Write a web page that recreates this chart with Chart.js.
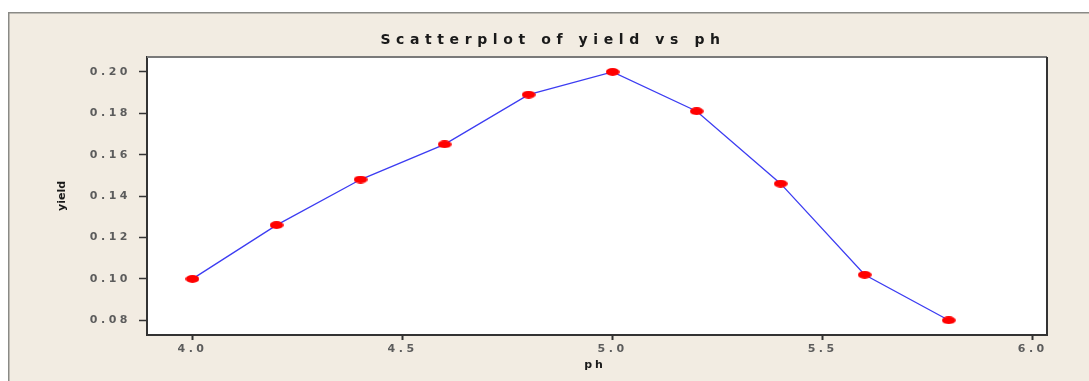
<!DOCTYPE html>
<html>
<head>
<meta charset="utf-8">
<script src="https://cdn.jsdelivr.net/npm/chart.js@4.4.1/dist/chart.umd.min.js"></script>
<style>
html,body{margin:0;padding:0;background:#ffffff;}
#wrap{width:1089px;height:381px;position:relative;}
</style>
</head>
<body>
<div id="wrap"><canvas id="c" width="1089" height="381"></canvas></div>
<script>
// ---- data ----
const phValues = [4.0, 4.2, 4.4, 4.6, 4.8, 5.0, 5.2, 5.4, 5.6, 5.8];
const yieldValues = [0.100, 0.126, 0.148, 0.165, 0.189, 0.200, 0.181, 0.146, 0.102, 0.080];
const xTickValues = [4.0, 4.5, 5.0, 5.5, 6.0];
const yTickValues = [0.08, 0.10, 0.12, 0.14, 0.16, 0.18, 0.20];
const titleText = 'Scatterplot of yield vs ph';
const xTitle = 'ph';
const yTitle = 'yield';

// ellipse marker
const marker = document.createElement('canvas');
marker.width = 14; marker.height = 8;
(function(){
  const m = marker.getContext('2d');
  m.fillStyle = '#ff0000';
  m.beginPath();
  m.ellipse(7, 4, 6.9, 3.9, 0, 0, Math.PI * 2);
  m.fill();
})();

const framePlugin = {
  id: 'frame',
  beforeDraw(chart) {
    const ctx = chart.ctx;
    const a = chart.chartArea;
    ctx.save();
    ctx.fillStyle = '#ffffff';
    ctx.fillRect(0, 0, chart.width, chart.height);
    ctx.fillStyle = '#f2ece2';
    ctx.fillRect(8, 12, chart.width, chart.height);
    ctx.strokeStyle = '#8a8a86';
    ctx.lineWidth = 1.5;
    ctx.beginPath();
    ctx.moveTo(8.75, chart.height + 2);
    ctx.lineTo(8.75, 12.75);
    ctx.lineTo(chart.width + 2, 12.75);
    ctx.stroke();
    ctx.fillStyle = '#ffffff';
    ctx.fillRect(a.left, a.top, a.right - a.left, a.bottom - a.top);
    ctx.restore();
    ctx.letterSpacing = '3.5px';
  },
  afterDraw(chart) {
    const ctx = chart.ctx;
    const a = chart.chartArea;
    ctx.save();
    ctx.letterSpacing = '0px';
    // top & right border
    ctx.strokeStyle = '#7a7a7a';
    ctx.lineWidth = 2;
    ctx.beginPath();
    ctx.moveTo(a.left, a.top);
    ctx.lineTo(a.right, a.top);
    ctx.stroke();
    ctx.strokeStyle = '#333333';
    ctx.beginPath();
    ctx.moveTo(a.right, a.top);
    ctx.lineTo(a.right, a.bottom + 1);
    ctx.stroke();
    // title
    ctx.fillStyle = '#1a1a1a';
    ctx.textAlign = 'center';
    ctx.textBaseline = 'middle';
    ctx.font = 'bold 14px "DejaVu Sans"';
    ctx.letterSpacing = '5.6px';
    ctx.fillText(titleText, 553, 40);
    // x title
    ctx.font = 'bold 11px "DejaVu Sans"';
    ctx.letterSpacing = '3px';
    ctx.fillText(xTitle, 595, 365);
    // y title
    ctx.letterSpacing = '0px';
    ctx.translate(62, (a.top + a.bottom) / 2);
    ctx.rotate(-Math.PI / 2);
    ctx.fillText(yTitle, 0, 0);
    ctx.restore();
  }
};

new Chart(document.getElementById('c'), {
  type: 'scatter',
  data: {
    datasets: [{
      data: phValues.map((x, i) => ({ x: x, y: yieldValues[i] })),
      showLine: true,
      borderColor: '#3c3cf2',
      borderWidth: 1.3,
      pointStyle: marker,
      pointRadius: 4,
      pointHoverRadius: 4
    }]
  },
  options: {
    responsive: false,
    animation: false,
    events: [],
    layout: { padding: { top: 57, right: 42, left: 0, bottom: 0 } },
    plugins: { legend: { display: false }, title: { display: false }, tooltip: { enabled: false } },
    scales: {
      x: {
        type: 'linear',
        min: 3.8917,
        max: 6.034,
        afterFit(s) { s.height = 46; },
        afterBuildTicks(s) { s.ticks = xTickValues.map(v => ({ value: v })); },
        grid: { drawOnChartArea: false, tickLength: 5, tickWidth: 2, tickColor: '#333333' },
        border: { display: true, color: '#333333', width: 2 },
        ticks: {
          padding: 3,
          color: '#5c5c5c',
          font: { family: '"DejaVu Sans"', size: 11, weight: 'bold' },
          callback: v => v.toFixed(1)
        }
      },
      y: {
        type: 'linear',
        min: 0.0729,
        max: 0.2072,
        afterFit(s) { s.width = 147; },
        afterBuildTicks(s) { s.ticks = yTickValues.map(v => ({ value: v })); },
        grid: { drawOnChartArea: false, tickLength: 8, tickWidth: 1.5, tickColor: '#333333' },
        border: { display: true, color: '#333333', width: 2 },
        ticks: {
          padding: 8,
          color: '#5c5c5c',
          font: { family: '"DejaVu Sans"', size: 11, weight: 'bold' },
          callback: v => v.toFixed(2)
        }
      }
    }
  },
  plugins: [framePlugin]
});
</script>
</body>
</html>
